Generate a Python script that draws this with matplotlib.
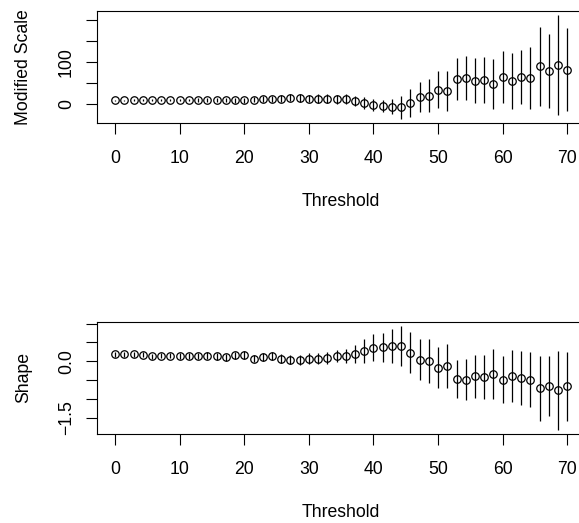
import numpy as np
import matplotlib
matplotlib.use("Agg")
from matplotlib import pyplot as plt

plt.rcParams["font.family"] = ["Liberation Sans", "DejaVu Sans"]

# 50 thresholds from 0 to 70
thresholds = np.linspace(0, 70, 50)

# modified scale estimates and half-widths of the confidence intervals
scale_est = [8, 8, 8.5, 8.5, 9, 8.5, 9, 9, 9, 9,
             9.5, 9, 9.5, 8, 8, 10, 10.5, 10.5, 12, 14,
             14, 12.5, 12.5, 12.5, 11, 11, 6.5, 1.5, -4, -5.5,
             -7, -8.5, 2, 17, 19.5, 33.5, 30, 60, 62, 55,
             56.5, 47.5, 63, 54.5, 63, 61.5, 89, 78, 92.5, 81]
scale_ci = [2, 2, 2.5, 2.5, 3, 3, 3, 3.5, 3.5, 4,
            4.5, 4.5, 5, 5.5, 6, 6.5, 7, 7, 8, 8.5,
            9, 9.5, 10, 10.5, 11, 12, 12.7, 14.4, 14.2, 14,
            18, 27.5, 33.7, 35.5, 40, 43.5, 47, 50, 52, 53.5,
            55, 59.5, 61.5, 66.5, 64, 74.5, 95, 88, 118.5, 99]

# shape estimates and half-widths of the confidence intervals
shape_est = [0.185, 0.185, 0.185, 0.175, 0.13, 0.15, 0.15, 0.14, 0.14, 0.15,
             0.15, 0.13, 0.105, 0.16, 0.16, 0.07, 0.12, 0.14, 0.07, 0.035,
             0.035, 0.07, 0.07, 0.08, 0.14, 0.14, 0.19, 0.27, 0.355, 0.375,
             0.40, 0.40, 0.23, 0.045, 0.005, -0.17, -0.125, -0.47, -0.485, -0.405,
             -0.415, -0.34, -0.485, -0.395, -0.445, -0.485, -0.72, -0.66, -0.77, -0.665]
shape_ci = [0.06, 0.06, 0.065, 0.065, 0.07, 0.07, 0.075, 0.075, 0.08, 0.08,
            0.085, 0.09, 0.09, 0.095, 0.1, 0.1, 0.11, 0.11, 0.12, 0.12,
            0.13, 0.14, 0.15, 0.16, 0.17, 0.19, 0.24, 0.31, 0.36, 0.385,
            0.45, 0.53, 0.55, 0.535, 0.575, 0.54, 0.585, 0.515, 0.535, 0.575,
            0.585, 0.66, 0.625, 0.695, 0.715, 0.735, 0.86, 0.80, 1.05, 0.915]

x_ticks = [0, 10, 20, 30, 40, 50, 60, 70]
scale_ticks = [0, 50, 100, 150, 200]
scale_tick_labels = ["0", "", "100", "", ""]
shape_ticks = [1.0, 0.5, 0.0, -0.5, -1.0, -1.5]
shape_tick_labels = ["", "", "0.0", "", "", "\u22121.5"]

FS = 12.7


def draw_panel(ax, est, ci, ylabel, yticks, yticklabels):
    est = np.asarray(est)
    ci = np.asarray(ci)
    ax.errorbar(thresholds, est, yerr=ci, fmt="o", ms=5.4, mfc="none",
                mec="black", mew=0.9, ecolor="black", elinewidth=0.9, capsize=0)

    # R-style axis ranges (4% extension)
    lo, hi = (est - ci).min(), (est + ci).max()
    span = hi - lo
    ax.set_ylim(lo - 0.04 * span, hi + 0.04 * span)
    ax.set_xlim(-2.8, 72.8)

    ax.set_xticks(x_ticks)
    ax.set_xticklabels([str(t) for t in x_ticks], fontsize=FS)
    ax.set_yticks(yticks)
    ax.set_yticklabels(yticklabels, fontsize=FS)
    for lbl in ax.get_yticklabels():
        lbl.set_rotation(90)
        lbl.set_va("center")

    ax.tick_params(axis="x", length=8, width=0.8, pad=11.5)
    ax.tick_params(axis="y", length=8, width=0.8, pad=8)
    for sp in ax.spines.values():
        sp.set_linewidth(0.8)

    ax.set_xlabel("Threshold", fontsize=FS, labelpad=18.5)
    ax.set_ylabel(ylabel, fontsize=FS, labelpad=18.5)


fig = plt.figure(figsize=(5.79, 5.23), dpi=100)
ax1 = fig.add_axes([0.1675, 0.7648, 0.8435, 0.2141])
ax2 = fig.add_axes([0.1675, 0.1702, 0.8435, 0.2141])

draw_panel(ax1, scale_est, scale_ci, "Modified Scale", scale_ticks, scale_tick_labels)
draw_panel(ax2, shape_est, shape_ci, "Shape", shape_ticks, shape_tick_labels)

fig.savefig("out.png", dpi=100)
